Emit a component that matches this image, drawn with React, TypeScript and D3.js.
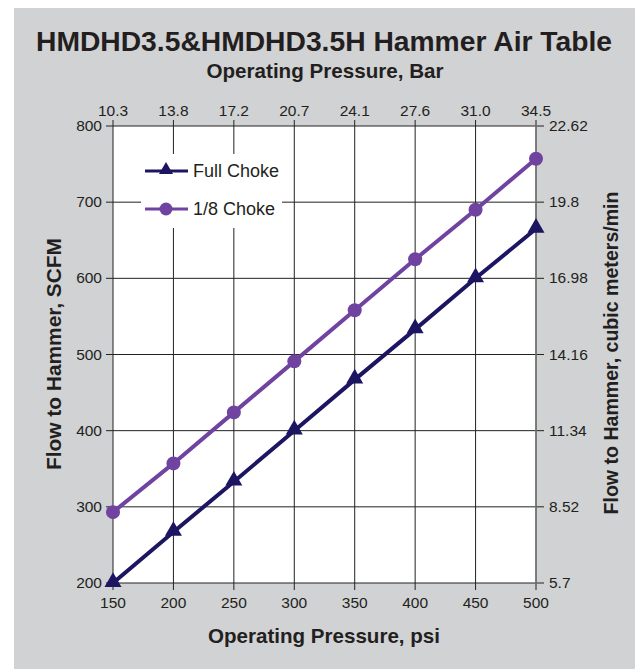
import React from "react";
import * as d3 from "d3";

const psiTicks = [150, 200, 250, 300, 350, 400, 450, 500];
const barLabels = ["10.3", "13.8", "17.2", "20.7", "24.1", "27.6", "31.0", "34.5"];
const scfmTicks = [200, 300, 400, 500, 600, 700, 800];
const cmmTicks = [5.7, 8.52, 11.34, 14.16, 16.98, 19.8, 22.62];

const fullChoke = [200, 267, 333, 400, 467, 533, 600, 665];
const eighthChoke = [293, 357, 424, 491, 558, 625, 690, 757];

const W = 635;
const H = 669;
const margin = { top: 126, right: 99, bottom: 86, left: 113 };

const FONT = "'Liberation Sans', Arial, sans-serif";
const TEXT = "#231f20";
const NAVY = "#1c1561";
const PURPLE = "#7043a0";

const App = () => {
  const x = d3
    .scaleLinear()
    .domain([150, 500])
    .range([margin.left, W - margin.right]);
  const y = d3
    .scaleLinear()
    .domain([200, 800])
    .range([H - margin.bottom, margin.top]);
  const yRight = d3
    .scaleLinear()
    .domain([5.7, 22.62])
    .range([H - margin.bottom, margin.top]);

  const line = d3
    .line<number>()
    .x((_, i) => x(psiTicks[i]))
    .y((d) => y(d));

  const tri = d3.symbol().type(d3.symbolTriangle).size(125)();
  const triSmall = d3.symbol().type(d3.symbolTriangle).size(85)();

  const x0 = x.range()[0];
  const x1 = x.range()[1];
  const y0 = y.range()[0];
  const y1 = y.range()[1];

  // legend box (covers gridlines)
  const leg = { x: 141, y: 154, w: 141, h: 74 };

  return (
    <svg
      width={W}
      height={H}
      style={{ position: "absolute", left: 0, top: 0 }}
      fontFamily={FONT}
    >
      <rect x={0} y={0} width={W} height={H} fill="#fff" />
      <rect x={14} y={8} width={W - 14} height={H - 8} fill="#d1d2d4" />

      <text
        x={324}
        y={51}
        textAnchor="middle"
        fontSize={28}
        fontWeight="bold"
        fill={TEXT}
        textLength={576}
        lengthAdjust="spacingAndGlyphs"
      >
        HMDHD3.5&amp;HMDHD3.5H Hammer Air Table
      </text>
      <text
        x={325}
        y={78}
        textAnchor="middle"
        fontSize={20.5}
        fontWeight="bold"
        fill={TEXT}
        textLength={237}
        lengthAdjust="spacingAndGlyphs"
      >
        Operating Pressure, Bar
      </text>

      <rect x={x0} y={y1} width={x1 - x0} height={y0 - y1} fill="#fff" />

      {/* gridlines */}
      {psiTicks.map((t) => (
        <line key={"v" + t} x1={x(t)} x2={x(t)} y1={y1 - 6} y2={y0 + 7} stroke="#222" strokeWidth={1} />
      ))}
      {scfmTicks.map((t) => (
        <line key={"h" + t} x1={x0 - 7} x2={x1 + 8} y1={y(t)} y2={y(t)} stroke="#222" strokeWidth={1} />
      ))}
      <line x1={x1} x2={x1} y1={y1 - 6} y2={y0 + 7} stroke="#7a7a7a" strokeWidth={1.5} />

      <rect x={leg.x} y={leg.y} width={leg.w} height={leg.h} fill="#fff" />

      {/* tick labels */}
      {psiTicks.map((t) => (
        <text key={"b" + t} x={x(t)} y={608} textAnchor="middle" fontSize={15.5} fill={TEXT}>
          {t}
        </text>
      ))}
      {psiTicks.map((t, i) => (
        <text key={"t" + t} x={x(t)} y={116} textAnchor="middle" fontSize={15.5} fill={TEXT}>
          {barLabels[i]}
        </text>
      ))}
      {scfmTicks.map((t) => (
        <text key={"l" + t} x={102} y={y(t) + 5} textAnchor="end" fontSize={15.5} fill={TEXT}>
          {t}
        </text>
      ))}
      {cmmTicks.map((t) => (
        <text key={"r" + t} x={549} y={yRight(t) + 5} textAnchor="start" fontSize={15.5} fill={TEXT}>
          {t}
        </text>
      ))}

      {/* axis titles */}
      <text
        x={324}
        y={643}
        textAnchor="middle"
        fontSize={20.5}
        fontWeight="bold"
        fill={TEXT}
        textLength={232}
        lengthAdjust="spacingAndGlyphs"
      >
        Operating Pressure, psi
      </text>
      <text
        transform="translate(61,354) rotate(-90)"
        textAnchor="middle"
        fontSize={20.5}
        fontWeight="bold"
        fill={TEXT}
        textLength={232}
        lengthAdjust="spacingAndGlyphs"
      >
        Flow to Hammer, SCFM
      </text>
      <text
        transform="translate(618,353) rotate(-90)"
        textAnchor="middle"
        fontSize={20.5}
        fontWeight="bold"
        fill={TEXT}
        textLength={323}
        lengthAdjust="spacingAndGlyphs"
      >
        Flow to Hammer, cubic meters/min
      </text>

      {/* series */}
      <path d={line(eighthChoke) ?? ""} fill="none" stroke={PURPLE} strokeWidth={4} />
      {eighthChoke.map((v, i) => (
        <circle key={"c" + i} cx={x(psiTicks[i])} cy={y(v)} r={7} fill={PURPLE} />
      ))}
      <path d={line(fullChoke) ?? ""} fill="none" stroke={NAVY} strokeWidth={4} />
      {fullChoke.map((v, i) => (
        <path
          key={"tr" + i}
          d={tri ?? ""}
          transform={`translate(${x(psiTicks[i])},${y(v) - 1})`}
          fill={NAVY}
        />
      ))}

      {/* legend */}
      <line x1={145} x2={188} y1={171} y2={171} stroke={NAVY} strokeWidth={3} />
      <path d={triSmall ?? ""} transform="translate(166,170)" fill={NAVY} />
      <text x={193} y={177} fontSize={18} fill={TEXT}>
        Full Choke
      </text>
      <line x1={145} x2={188} y1={209} y2={209} stroke={PURPLE} strokeWidth={3} />
      <circle cx={166} cy={209} r={6.5} fill={PURPLE} />
      <text x={193} y={215} fontSize={18} fill={TEXT}>
        1/8 Choke
      </text>
    </svg>
  );
};

export default App;
